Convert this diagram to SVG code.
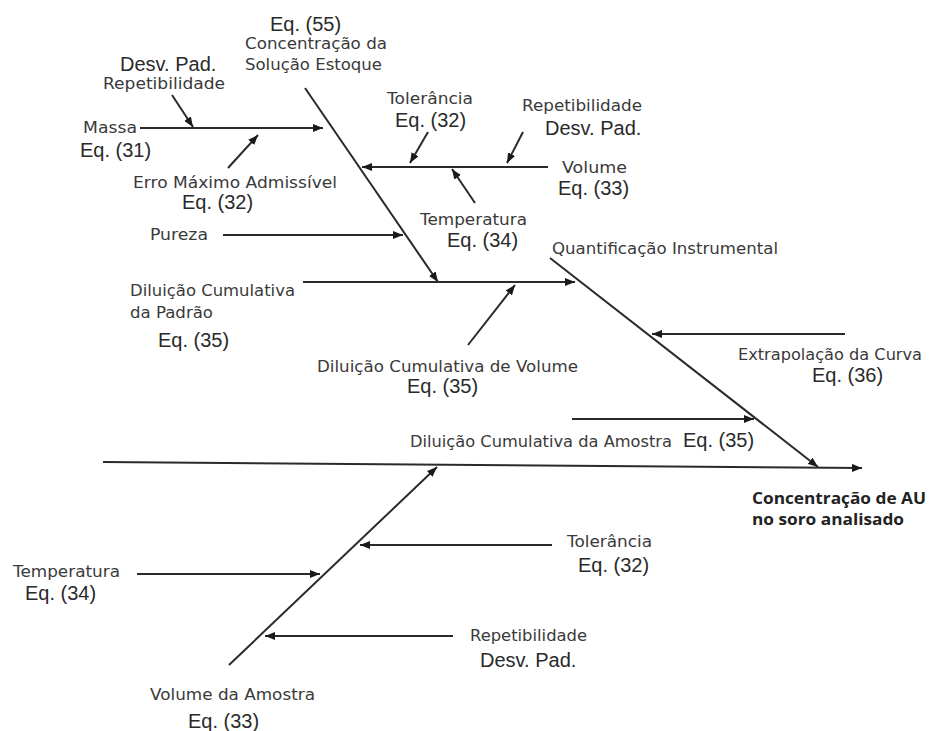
<svg xmlns="http://www.w3.org/2000/svg" width="932" height="731" viewBox="0 0 932 731">
<style>
.lbl{font-family:"DejaVu Sans",Verdana,sans-serif;font-size:15.5px;fill:#3a3a3a}
.eq{font-family:"Liberation Sans",Arial,sans-serif;font-size:20px;fill:#2a2a2a}
.bold{font-family:"Open Sans","Noto Sans",sans-serif;font-size:16px;font-weight:bold;fill:#222}
.ln{stroke:#2a2a2a;stroke-width:2;fill:none;marker-end:url(#ah)}
</style>
<defs>
<marker id="ah" markerUnits="userSpaceOnUse" markerWidth="10" markerHeight="8" viewBox="0 0 10 8" refX="10" refY="4" orient="auto">
<path d="M0,0 L10,4 L0,8 Z" fill="#1a1a1a"/>
</marker>
</defs>
<rect width="932" height="731" fill="#fff"/>
<g id="connectors">
<line class="ln" x1="140" y1="128" x2="323" y2="128"/>
<line class="ln" x1="172" y1="95" x2="193" y2="127"/>
<line class="ln" x1="228" y1="168" x2="258" y2="135"/>
<line class="ln" x1="305" y1="88" x2="438" y2="282"/>
<line class="ln" x1="548" y1="167" x2="362" y2="167"/>
<line class="ln" x1="428" y1="132" x2="410" y2="163"/>
<line class="ln" x1="523" y1="132" x2="507" y2="163"/>
<line class="ln" x1="475" y1="203" x2="452" y2="169"/>
<line class="ln" x1="223" y1="235" x2="403" y2="235"/>
<line class="ln" x1="303" y1="282" x2="575" y2="282"/>
<line class="ln" x1="468" y1="345" x2="515" y2="285"/>
<line class="ln" x1="550" y1="258" x2="818" y2="467"/>
<line class="ln" x1="845" y1="334" x2="652" y2="334"/>
<line class="ln" x1="572" y1="419" x2="754" y2="419"/>
<line class="ln" x1="103" y1="462" x2="862" y2="468"/>
<line class="ln" x1="229" y1="665" x2="437" y2="467"/>
<line class="ln" x1="552" y1="545" x2="360" y2="545"/>
<line class="ln" x1="137" y1="574" x2="320" y2="574"/>
<line class="ln" x1="453" y1="636" x2="265" y2="636"/>
</g>
<g id="conc-solucao-estoque">
<text class="eq" x="270" y="31">Eq. (55)</text>
<text class="lbl" x="245" y="49" textLength="142" lengthAdjust="spacingAndGlyphs">Concentração da</text>
<text class="lbl" x="245" y="70" textLength="137" lengthAdjust="spacingAndGlyphs">Solução Estoque</text>
</g>
<g id="repetibilidade-massa">
<text class="eq" x="120" y="71">Desv. Pad.</text>
<text class="lbl" x="103" y="89" textLength="122" lengthAdjust="spacingAndGlyphs">Repetibilidade</text>
</g>
<g id="massa">
<text class="lbl" x="83" y="133" textLength="54" lengthAdjust="spacingAndGlyphs">Massa</text>
<text class="eq" x="80" y="157">Eq. (31)</text>
</g>
<g id="erro-maximo">
<text class="lbl" x="133" y="188" textLength="204" lengthAdjust="spacingAndGlyphs">Erro Máximo Admissível</text>
<text class="eq" x="182" y="209">Eq. (32)</text>
</g>
<g id="tolerancia-volume">
<text class="lbl" x="387" y="104" textLength="86" lengthAdjust="spacingAndGlyphs">Tolerância</text>
<text class="eq" x="395" y="127">Eq. (32)</text>
</g>
<g id="repetibilidade-volume">
<text class="lbl" x="522" y="111" textLength="120" lengthAdjust="spacingAndGlyphs">Repetibilidade</text>
<text class="eq" x="545" y="135">Desv. Pad.</text>
</g>
<g id="volume">
<text class="lbl" x="562" y="173" textLength="65" lengthAdjust="spacingAndGlyphs">Volume</text>
<text class="eq" x="558" y="195">Eq. (33)</text>
</g>
<g id="temperatura-volume">
<text class="lbl" x="420" y="225" textLength="107" lengthAdjust="spacingAndGlyphs">Temperatura</text>
<text class="eq" x="447" y="247">Eq. (34)</text>
</g>
<g id="pureza">
<text class="lbl" x="150" y="240" textLength="58" lengthAdjust="spacingAndGlyphs">Pureza</text>
</g>
<g id="diluicao-padrao">
<text class="lbl" x="130" y="296" textLength="165" lengthAdjust="spacingAndGlyphs">Diluição Cumulativa</text>
<text class="lbl" x="130" y="318" textLength="83" lengthAdjust="spacingAndGlyphs">da Padrão</text>
<text class="eq" x="158" y="347">Eq. (35)</text>
</g>
<g id="diluicao-volume">
<text class="lbl" x="317" y="372" textLength="261" lengthAdjust="spacingAndGlyphs">Diluição Cumulativa de Volume</text>
<text class="eq" x="407" y="393">Eq. (35)</text>
</g>
<g id="quantificacao">
<text class="lbl" x="552" y="254" textLength="226" lengthAdjust="spacingAndGlyphs">Quantificação Instrumental</text>
</g>
<g id="extrapolacao">
<text class="lbl" x="738" y="360" textLength="184" lengthAdjust="spacingAndGlyphs">Extrapolação da Curva</text>
<text class="eq" x="812" y="382">Eq. (36)</text>
</g>
<g id="diluicao-amostra">
<text class="lbl" x="410" y="447" textLength="262" lengthAdjust="spacingAndGlyphs">Diluição Cumulativa da Amostra</text>
<text class="eq" x="683" y="447">Eq. (35)</text>
</g>
<g id="resultado">
<text class="bold" x="752" y="504" textLength="174" lengthAdjust="spacingAndGlyphs">Concentração de AU</text>
<text class="bold" x="752" y="525" textLength="152" lengthAdjust="spacingAndGlyphs">no soro analisado</text>
</g>
<g id="tolerancia-amostra">
<text class="lbl" x="567" y="547" textLength="85" lengthAdjust="spacingAndGlyphs">Tolerância</text>
<text class="eq" x="578" y="572">Eq. (32)</text>
</g>
<g id="temperatura-amostra">
<text class="lbl" x="13" y="577" textLength="107" lengthAdjust="spacingAndGlyphs">Temperatura</text>
<text class="eq" x="25" y="600">Eq. (34)</text>
</g>
<g id="repetibilidade-amostra">
<text class="lbl" x="470" y="641" textLength="117" lengthAdjust="spacingAndGlyphs">Repetibilidade</text>
<text class="eq" x="480" y="667">Desv. Pad.</text>
</g>
<g id="volume-amostra">
<text class="lbl" x="150" y="700" textLength="165" lengthAdjust="spacingAndGlyphs">Volume da Amostra</text>
<text class="eq" x="188" y="728">Eq. (33)</text>
</g>
</svg>
